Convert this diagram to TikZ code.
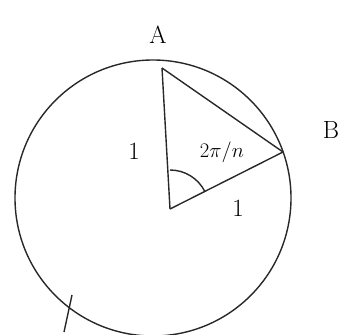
\documentclass[tikz,border=0pt]{standalone}
\usepackage{tikz}

\begin{document}
\begin{tikzpicture}[x=1pt,y=1pt,yscale=-1,xscale=1,
  stroke/.style={line width=1.4pt,color={rgb, 255:red, 40; green, 40; blue, 40 }},
  lbl/.style={inner sep=0.75pt,font=\Huge}]
\useasboundingbox (0,0) rectangle (355,334);

%Points
\coordinate (O) at (170,209);
\coordinate (A) at (162,68);
\coordinate (B) at (283,152);
\coordinate (M) at (153,198);

%Shape: Circle
\draw [stroke] (M) circle (138);
%Straight Lines
\draw [stroke] (O) -- (A) ;
%Straight Lines
\draw [stroke] (A) -- (B) ;
%Straight Lines
\draw [stroke] (O) -- (B) ;
%Shape: Arc
\draw [stroke] (170,170) arc (-90:-26.8:39) ;
%Straight Lines
\draw [stroke] (72,295) -- (64,332) ;

% Text Node
\node (labA) at (158,35) [lbl] {A};
% Text Node
\node (labB) at (331,130) [lbl] {B};
% Text Node
\node (labL) at (134,151) [lbl] {$1$};
% Text Node
\node (labR) at (238,208) [lbl] {$1$};
% Text Node
\node (labT) at (222,152) [lbl,font=\huge] {$2\pi/n$};

\end{tikzpicture}
\end{document}
